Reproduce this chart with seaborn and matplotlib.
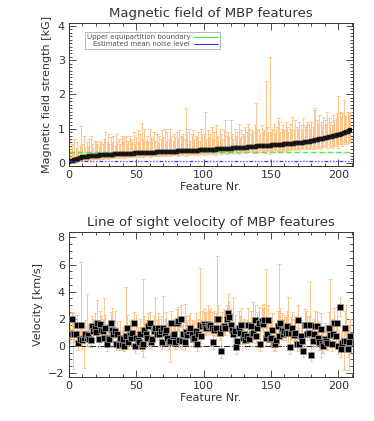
"""MBP features: magnetic field strength and line-of-sight velocity."""
import matplotlib
matplotlib.use("Agg")
import matplotlib.pyplot as plt
from matplotlib.lines import Line2D
from matplotlib.ticker import MultipleLocator
import numpy as np
import pandas as pd
import seaborn as sns

# magnetic field strength [kG], sorted, with whisker ends
b_field = [
    0.04, 0.05, 0.06, 0.07, 0.08, 0.09, 0.10, 0.12, 0.14, 0.15,
    0.16, 0.17, 0.17, 0.18, 0.18, 0.19, 0.19, 0.20, 0.20, 0.20,
    0.21, 0.21, 0.21, 0.22, 0.22, 0.22, 0.23, 0.23, 0.23, 0.23,
    0.24, 0.24, 0.24, 0.24, 0.25, 0.25, 0.25, 0.25, 0.25, 0.26,
    0.26, 0.26, 0.26, 0.26, 0.27, 0.27, 0.27, 0.27, 0.27, 0.28,
    0.28, 0.28, 0.28, 0.28, 0.29, 0.29, 0.29, 0.29, 0.29, 0.30,
    0.30, 0.30, 0.30, 0.30, 0.30, 0.31, 0.31, 0.31, 0.31, 0.31,
    0.32, 0.32, 0.32, 0.32, 0.32, 0.33, 0.33, 0.33, 0.33, 0.33,
    0.33, 0.34, 0.34, 0.34, 0.34, 0.34, 0.35, 0.35, 0.35, 0.35,
    0.35, 0.35, 0.36, 0.36, 0.36, 0.36, 0.36, 0.37, 0.37, 0.37,
    0.37, 0.37, 0.38, 0.38, 0.38, 0.38, 0.39, 0.39, 0.39, 0.39,
    0.40, 0.40, 0.40, 0.40, 0.41, 0.41, 0.41, 0.41, 0.42, 0.42,
    0.42, 0.42, 0.43, 0.43, 0.43, 0.43, 0.44, 0.44, 0.44, 0.44,
    0.45, 0.45, 0.45, 0.46, 0.46, 0.46, 0.46, 0.47, 0.47, 0.47,
    0.48, 0.48, 0.48, 0.48, 0.49, 0.49, 0.49, 0.50, 0.50, 0.50,
    0.50, 0.51, 0.51, 0.51, 0.52, 0.52, 0.52, 0.53, 0.53, 0.53,
    0.54, 0.54, 0.54, 0.55, 0.55, 0.55, 0.56, 0.56, 0.57, 0.57,
    0.57, 0.58, 0.58, 0.59, 0.59, 0.60, 0.60, 0.61, 0.61, 0.62,
    0.63, 0.64, 0.65, 0.66, 0.67, 0.68, 0.69, 0.70, 0.70, 0.71,
    0.72, 0.73, 0.74, 0.75, 0.76, 0.77, 0.78, 0.79, 0.80, 0.81,
    0.82, 0.83, 0.84, 0.85, 0.86, 0.88, 0.89, 0.91, 0.93, 0.95,
]
b_high = [
    0.65, 0.40, 0.55, 0.30, 0.70, 0.45, 0.60, 0.35, 0.50, 1.07,
    0.55, 0.80, 0.45, 0.60, 0.50, 0.70, 0.80, 0.55, 0.45, 0.65,
    0.60, 0.55, 0.50, 0.65, 0.60, 0.55, 0.70, 0.90, 0.60, 0.85,
    0.55, 0.75, 0.60, 0.80, 0.50, 0.85, 0.65, 0.70, 0.55, 0.80,
    0.60, 0.75, 0.80, 0.55, 0.65, 0.80, 0.70, 0.60, 0.90, 0.55,
    0.75, 0.95, 0.60, 0.85, 1.18, 0.70, 1.00, 0.65, 0.80, 0.60,
    1.00, 0.75, 0.70, 0.90, 0.65, 0.85, 0.60, 0.80, 0.70, 0.95,
    0.75, 1.00, 0.65, 0.90, 0.70, 1.00, 0.80, 0.65, 0.85, 0.75,
    0.90, 0.70, 0.95, 0.80, 0.75, 0.85, 0.70, 1.60, 0.90, 1.00,
    0.65, 0.85, 0.95, 0.70, 0.80, 0.75, 0.90, 0.65, 1.00, 0.85,
    0.85, 1.50, 0.70, 0.95, 0.75, 0.85, 1.05, 0.70, 0.90, 1.10,
    0.80, 0.75, 1.00, 0.85, 0.70, 0.95, 1.25, 0.80, 0.90, 0.75,
    1.25, 0.85, 0.70, 1.00, 0.80, 0.90, 1.15, 0.75, 0.95, 0.85,
    0.80, 1.05, 0.90, 1.15, 1.00, 0.85, 0.95, 0.90, 1.10, 1.75,
    0.95, 1.00, 0.85, 1.10, 0.90, 0.95, 2.40, 1.05, 0.90, 3.10,
    0.90, 1.00, 1.15, 0.85, 1.05, 1.30, 1.20, 0.90, 1.00, 1.10,
    0.95, 1.20, 1.05, 0.90, 1.15, 1.00, 1.35, 0.95, 1.25, 1.05,
    1.00, 1.20, 1.10, 0.95, 1.30, 1.05, 1.10, 1.20, 1.15, 1.00,
    1.20, 1.05, 1.55, 1.60, 1.25, 1.15, 1.40, 1.20, 1.10, 1.35,
    1.25, 1.15, 1.50, 1.30, 1.20, 1.10, 1.40, 1.25, 1.30, 1.45,
    1.95, 1.50, 1.35, 1.45, 1.85, 1.40, 1.35, 1.50, 1.45, 1.50,
]
b_low = [
    0.00, 0.00, 0.00, 0.02, 0.00, 0.03, 0.04, 0.05, 0.06, 0.08,
    0.08, 0.10, 0.06, 0.12, 0.09, 0.11, 0.07, 0.13, 0.10, 0.12,
    0.14, 0.10, 0.15, 0.12, 0.16, 0.11, 0.15, 0.13, 0.17, 0.12,
    0.16, 0.14, 0.18, 0.13, 0.17, 0.15, 0.19, 0.14, 0.18, 0.16,
    0.19, 0.15, 0.20, 0.17, 0.18, 0.21, 0.16, 0.20, 0.19, 0.17,
    0.21, 0.18, 0.22, 0.19, 0.23, 0.17, 0.21, 0.24, 0.20, 0.22,
    0.18, 0.23, 0.21, 0.25, 0.20, 0.22, 0.24, 0.19, 0.23, 0.21,
    0.25, 0.22, 0.20, 0.24, 0.26, 0.21, 0.23, 0.25, 0.22, 0.27,
    0.23, 0.26, 0.21, 0.25, 0.27, 0.24, 0.28, 0.20, 0.26, 0.24,
    0.27, 0.25, 0.29, 0.23, 0.28, 0.26, 0.24, 0.30, 0.27, 0.25,
    0.29, 0.22, 0.30, 0.27, 0.25, 0.31, 0.28, 0.26, 0.30, 0.24,
    0.31, 0.28, 0.33, 0.26, 0.30, 0.32, 0.29, 0.27, 0.33, 0.30,
    0.28, 0.32, 0.30, 0.34, 0.29, 0.31, 0.27, 0.33, 0.35, 0.30,
    0.33, 0.29, 0.35, 0.31, 0.34, 0.36, 0.32, 0.30, 0.35, 0.28,
    0.36, 0.33, 0.38, 0.31, 0.35, 0.37, 0.30, 0.39, 0.34, 0.25,
    0.38, 0.35, 0.40, 0.33, 0.37, 0.36, 0.39, 0.41, 0.35, 0.38,
    0.40, 0.36, 0.42, 0.38, 0.41, 0.37, 0.43, 0.39, 0.42, 0.40,
    0.44, 0.38, 0.43, 0.45, 0.40, 0.46, 0.42, 0.44, 0.41, 0.47,
    0.43, 0.48, 0.40, 0.45, 0.49, 0.44, 0.47, 0.42, 0.50, 0.46,
    0.48, 0.51, 0.45, 0.52, 0.47, 0.50, 0.44, 0.53, 0.49, 0.55,
    0.45, 0.54, 0.58, 0.50, 0.56, 0.60, 0.55, 0.62, 0.58, 0.65,
]
equipartition = 0.33
noise_level = 0.05

# line-of-sight velocity [km/s] with whisker ends
velocity = [
    0.96, 0.90, 2.00, 0.85, 0.85, 0.90, 1.55, 0.20, 0.50, 1.55,
    0.40, 0.60, 0.90, 0.60, 0.80, 0.50, 0.40, 1.45, 1.10, 1.30,
    1.00, 1.70, 0.50, 1.60, 1.20, 1.10, 0.60, 1.30, 0.10, 0.60,
    0.50, 1.70, 1.20, 0.85, 1.10, 0.15, 0.90, 0.05, 0.60, 0.10,
    0.50, 0.00, 0.70, 1.30, 0.25, 0.80, 0.60, 0.95, 1.70, 0.00,
    0.60, 0.40, 0.25, 0.90, 0.00, 0.10, 1.20, 0.90, 0.60, 1.45,
    1.70, 0.30, 0.50, 1.10, 1.30, 0.85, 1.30, 0.90, 1.10, 0.25,
    1.30, 0.95, 1.20, 0.60, 0.25, 0.35, 1.70, 0.70, 0.85, 0.25,
    1.70, 1.80, 0.40, 2.00, 0.35, 0.85, 0.25, 1.00, 0.80, 1.10,
    1.30, 0.85, 0.50, 0.60, 1.10, 0.10, 0.85, 1.55, 0.70, 1.45,
    1.60, 1.45, 1.30, 1.60, 1.45, 1.55, 1.35, 0.25, 1.20, 1.30,
    2.00, 2.00, 0.96, -0.35, 1.30, 1.45, 1.30, 2.00, 2.40, 2.15,
    1.55, 1.20, 0.85, 1.10, -0.10, 0.35, 1.30, 0.95, 1.50, 0.60,
    0.85, 0.40, 0.70, 1.55, 0.50, 1.45, 0.85, 0.96, 1.90, 0.70,
    1.30, 1.70, 0.10, 1.80, 1.60, 1.90, 0.60, 0.85, 1.90, 0.50,
    0.60, 1.20, 0.10, 0.10, 0.40, 1.45, 0.70, 1.70, 1.20, 0.90,
    1.10, 0.96, 1.45, 0.96, -0.10, 0.96, 1.30, 0.80, 0.96, 0.10,
    1.90, 0.10, 0.70, 0.35, -0.35, 1.55, 1.55, 0.90, 0.96, 1.55,
    -0.65, 0.35, 0.85, 1.45, 1.45, 0.60, 0.25, 1.25, 0.10, 0.00,
    0.50, 0.35, 0.20, 1.30, 0.80, 0.10, 0.85, 1.70, 0.70, 1.70,
    0.00, 2.85, -0.25, 0.20, 0.35, 1.35, 0.35, -0.25, 0.30, 0.70,
]
v_high = [
    2.4, 1.8, 2.5, 2.4, 1.6, 1.7, 2.3, 1.2, 1.4, 6.2,
    1.5, 1.4, 1.9, 3.8, 1.6, 1.4, 1.3, 2.2, 2.0, 2.4,
    1.9, 3.4, 1.5, 2.6, 2.2, 2.0, 3.5, 2.3, 1.4, 1.6,
    1.5, 2.5, 2.8, 1.9, 2.6, 1.4, 1.8, 1.0, 1.8, 1.2,
    1.4, 1.0, 4.35, 2.3, 1.4, 1.8, 1.6, 2.0, 2.5, 1.2,
    2.3, 1.4, 1.4, 2.0, 1.0, 4.95, 2.2, 1.9, 1.6, 2.4,
    2.5, 1.5, 1.8, 2.2, 3.5, 1.9, 2.4, 2.0, 2.2, 1.3,
    3.65, 2.0, 2.5, 1.7, 1.3, 1.5, 2.6, 1.9, 2.0, 1.5,
    2.7, 2.9, 1.6, 3.0, 1.5, 2.0, 3.1, 2.2, 1.9, 2.3,
    2.4, 1.9, 1.7, 1.8, 2.4, 1.3, 2.0, 5.75, 1.9, 2.6,
    2.7, 2.5, 2.4, 3.0, 2.6, 2.7, 2.5, 1.4, 2.6, 2.4,
    6.6, 3.0, 2.2, 0.6, 2.5, 2.7, 2.6, 3.0, 3.85, 3.2,
    2.8, 2.4, 3.5, 2.3, 1.1, 1.5, 2.6, 2.2, 2.8, 1.8,
    2.0, 1.6, 1.9, 2.8, 1.7, 2.6, 2.0, 3.2, 3.0, 1.9,
    2.5, 2.9, 1.3, 3.0, 2.8, 3.1, 5.65, 2.0, 3.0, 1.7,
    1.8, 2.4, 1.3, 1.2, 1.6, 2.6, 6.05, 2.8, 2.4, 2.0,
    2.3, 2.1, 2.6, 3.6, 1.0, 2.1, 2.5, 2.0, 2.2, 1.4,
    3.0, 1.3, 1.9, 1.5, 0.9, 2.7, 2.6, 2.1, 2.2, 4.7,
    0.6, 1.6, 2.0, 2.6, 2.5, 1.8, 1.4, 2.4, 1.3, 1.2,
    1.7, 1.5, 1.4, 2.5, 4.9, 1.3, 2.0, 2.8, 1.9, 2.9,
    1.2, 3.5, 1.0, 1.4, 1.5, 2.6, 3.0, 1.0, 1.5, 2.0,
]
v_low = [
    0.3, 0.2, 1.2, -1.7, 0.3, 0.4, 0.9, -0.3, 0.0, 0.9,
    -0.2, -1.6, 0.4, 0.0, 0.3, 0.0, -0.1, 0.9, 0.6, 0.8,
    0.5, 1.1, -0.1, 1.0, 0.7, 0.5, 0.0, 0.8, -0.4, 0.1,
    0.0, 1.2, 0.7, 0.3, 0.6, -0.3, 0.4, -0.3, 0.1, -0.3,
    0.0, -0.4, 0.1, 0.8, -0.2, 0.3, 0.1, 0.4, 1.1, -0.5,
    0.1, -0.1, -0.2, 0.4, -0.4, -0.8, 0.7, 0.4, 0.1, 1.0,
    1.1, -0.2, 0.0, 0.6, 0.7, 0.4, 0.8, 0.4, 0.6, -0.2,
    0.7, 0.5, 0.7, 0.1, -0.2, -1.2, 1.2, 0.2, 0.3, -0.2,
    1.1, 1.2, -0.1, 1.4, -0.2, 0.3, -0.3, 0.5, 0.3, 0.6,
    0.8, 0.3, 0.0, 0.1, 0.6, -0.4, 0.3, 0.9, 0.2, 0.9,
    1.1, 0.9, 0.8, 1.0, 0.9, 1.0, 0.8, -0.2, 0.7, 0.8,
    1.3, 1.4, 0.4, -0.9, 0.8, 0.9, 0.8, 1.4, 1.8, 1.6,
    1.0, 0.7, 0.3, 0.6, -0.6, -0.1, 0.8, 0.4, 1.0, 0.1,
    0.3, -0.1, 0.2, 1.0, 0.0, 0.9, 0.3, 0.4, 1.3, 0.2,
    0.8, 1.1, -0.4, 1.2, 1.0, 1.3, 0.0, 0.3, 1.3, 0.0,
    0.1, 0.7, -0.4, -0.4, -0.1, 0.9, 0.1, 1.1, 0.6, 0.4,
    0.6, 0.4, 0.9, 0.3, -0.6, 0.4, 0.8, 0.3, 0.4, -0.4,
    1.3, -0.4, 0.2, -0.2, -0.8, 1.0, 1.0, 0.4, 0.4, 0.9,
    -1.1, -0.2, 0.3, 0.9, 0.9, 0.1, -0.3, -0.8, -0.5, -0.5,
    0.0, -0.2, -0.3, 0.8, 0.2, -0.4, 0.3, 1.1, 0.2, 1.1,
    -0.6, 2.2, -0.8, -0.3, -1.8, 0.8, -0.2, -0.8, -1.8, 0.2,
]

feature = np.arange(len(b_field))
df = pd.DataFrame({
    "feature": feature,
    "b": b_field, "b_hi": b_high, "b_lo": b_low,
    "v": velocity, "v_hi": v_high, "v_lo": v_low,
})

sns.set_style("ticks")
plt.rcParams["font.family"] = ["DejaVu Sans"]
TXT = "#333333"
ERR = "#FFC48A"
GREEN = "#44EE44"
BLUE = "#3333FF"

fig = plt.figure(figsize=(3.74, 4.21), dpi=100)
ax1 = fig.add_axes([0.1845, 0.6057, 0.7595, 0.3397])
ax2 = fig.add_axes([0.1845, 0.1045, 0.7595, 0.3445])


def style_axis(ax, ymajor, yminor):
    ax.set_xlim(0, 211)
    ax.xaxis.set_major_locator(MultipleLocator(50))
    ax.xaxis.set_minor_locator(MultipleLocator(10))
    ax.yaxis.set_major_locator(MultipleLocator(ymajor))
    ax.yaxis.set_minor_locator(MultipleLocator(yminor))
    ax.tick_params(which="both", direction="in", top=True, right=True,
                   colors=TXT, labelsize=8, width=0.6, pad=3)
    ax.tick_params(which="major", length=5)
    ax.tick_params(which="minor", length=2.5)
    for s in ax.spines.values():
        s.set_linewidth(0.7)
        s.set_color(TXT)
    ax.set_xlabel("Feature Nr.", fontsize=8, color=TXT, labelpad=1)


# top panel: magnetic field strength
ax1.errorbar(df["feature"], df["b"],
             yerr=[df["b"] - df["b_lo"], df["b_hi"] - df["b"]],
             fmt="none", ecolor=ERR, elinewidth=0.7, capsize=1.3,
             capthick=0.6, zorder=1)
ax1.axhline(equipartition, color=GREEN, ls=(0, (4, 2)), lw=1.0, zorder=2)
sns.scatterplot(data=df, x="feature", y="b", ax=ax1, marker="s", s=9,
                color="black", edgecolor="#444444", linewidth=0.3, zorder=3,
                legend=False)
ax1.axhline(noise_level, color=BLUE, ls=(0, (3, 1.5, 1, 1.5, 1, 1.5, 1, 1.5)),
            lw=0.9, zorder=4)
ax1.set_ylim(-0.09, 4.09)
style_axis(ax1, 1, 0.1)
ax1.set_ylabel("Magnetic field strength [kG]", fontsize=8, color=TXT, labelpad=4)
ax1.set_title("Magnetic field of MBP features", fontsize=9.5, color=TXT, pad=4)
handles = [Line2D([], [], color=GREEN, lw=0.8),
           Line2D([], [], color=BLUE, lw=0.8)]
leg = ax1.legend(handles, ["Upper equipartition boundary", "Estimated mean noise level"],
                 loc="upper left", bbox_to_anchor=(0.055, 0.935), fontsize=5,
                 markerfirst=False, frameon=True, fancybox=False, handlelength=3.5,
                 handletextpad=0.5, borderpad=0.3, labelspacing=0.1,
                 borderaxespad=0)
leg.get_frame().set_edgecolor("#999999")
leg.get_frame().set_linewidth(0.6)
for t in leg.get_texts():
    t.set_color("#555555")

# bottom panel: line-of-sight velocity
ax2.errorbar(df["feature"], df["v"],
             yerr=[df["v"] - df["v_lo"], df["v_hi"] - df["v"]],
             fmt="none", ecolor=ERR, elinewidth=0.7, capsize=1.3,
             capthick=0.6, zorder=1)
ax2.axhline(0, color="#222222", ls="-.", lw=0.7, zorder=2)
sns.scatterplot(data=df, x="feature", y="v", ax=ax2, marker="s", s=13,
                color="black", edgecolor="#999999", linewidth=0.5, zorder=3,
                legend=False)
ax2.set_ylim(-2.3, 8.4)
style_axis(ax2, 2, 0.5)
ax2.set_ylabel("Velocity [km/s]", fontsize=8, color=TXT, labelpad=4)
ax2.set_title("Line of sight velocity of MBP features", fontsize=9.5, color=TXT, pad=4)

fig.savefig("out.png", dpi=100)
plt.close(fig)
